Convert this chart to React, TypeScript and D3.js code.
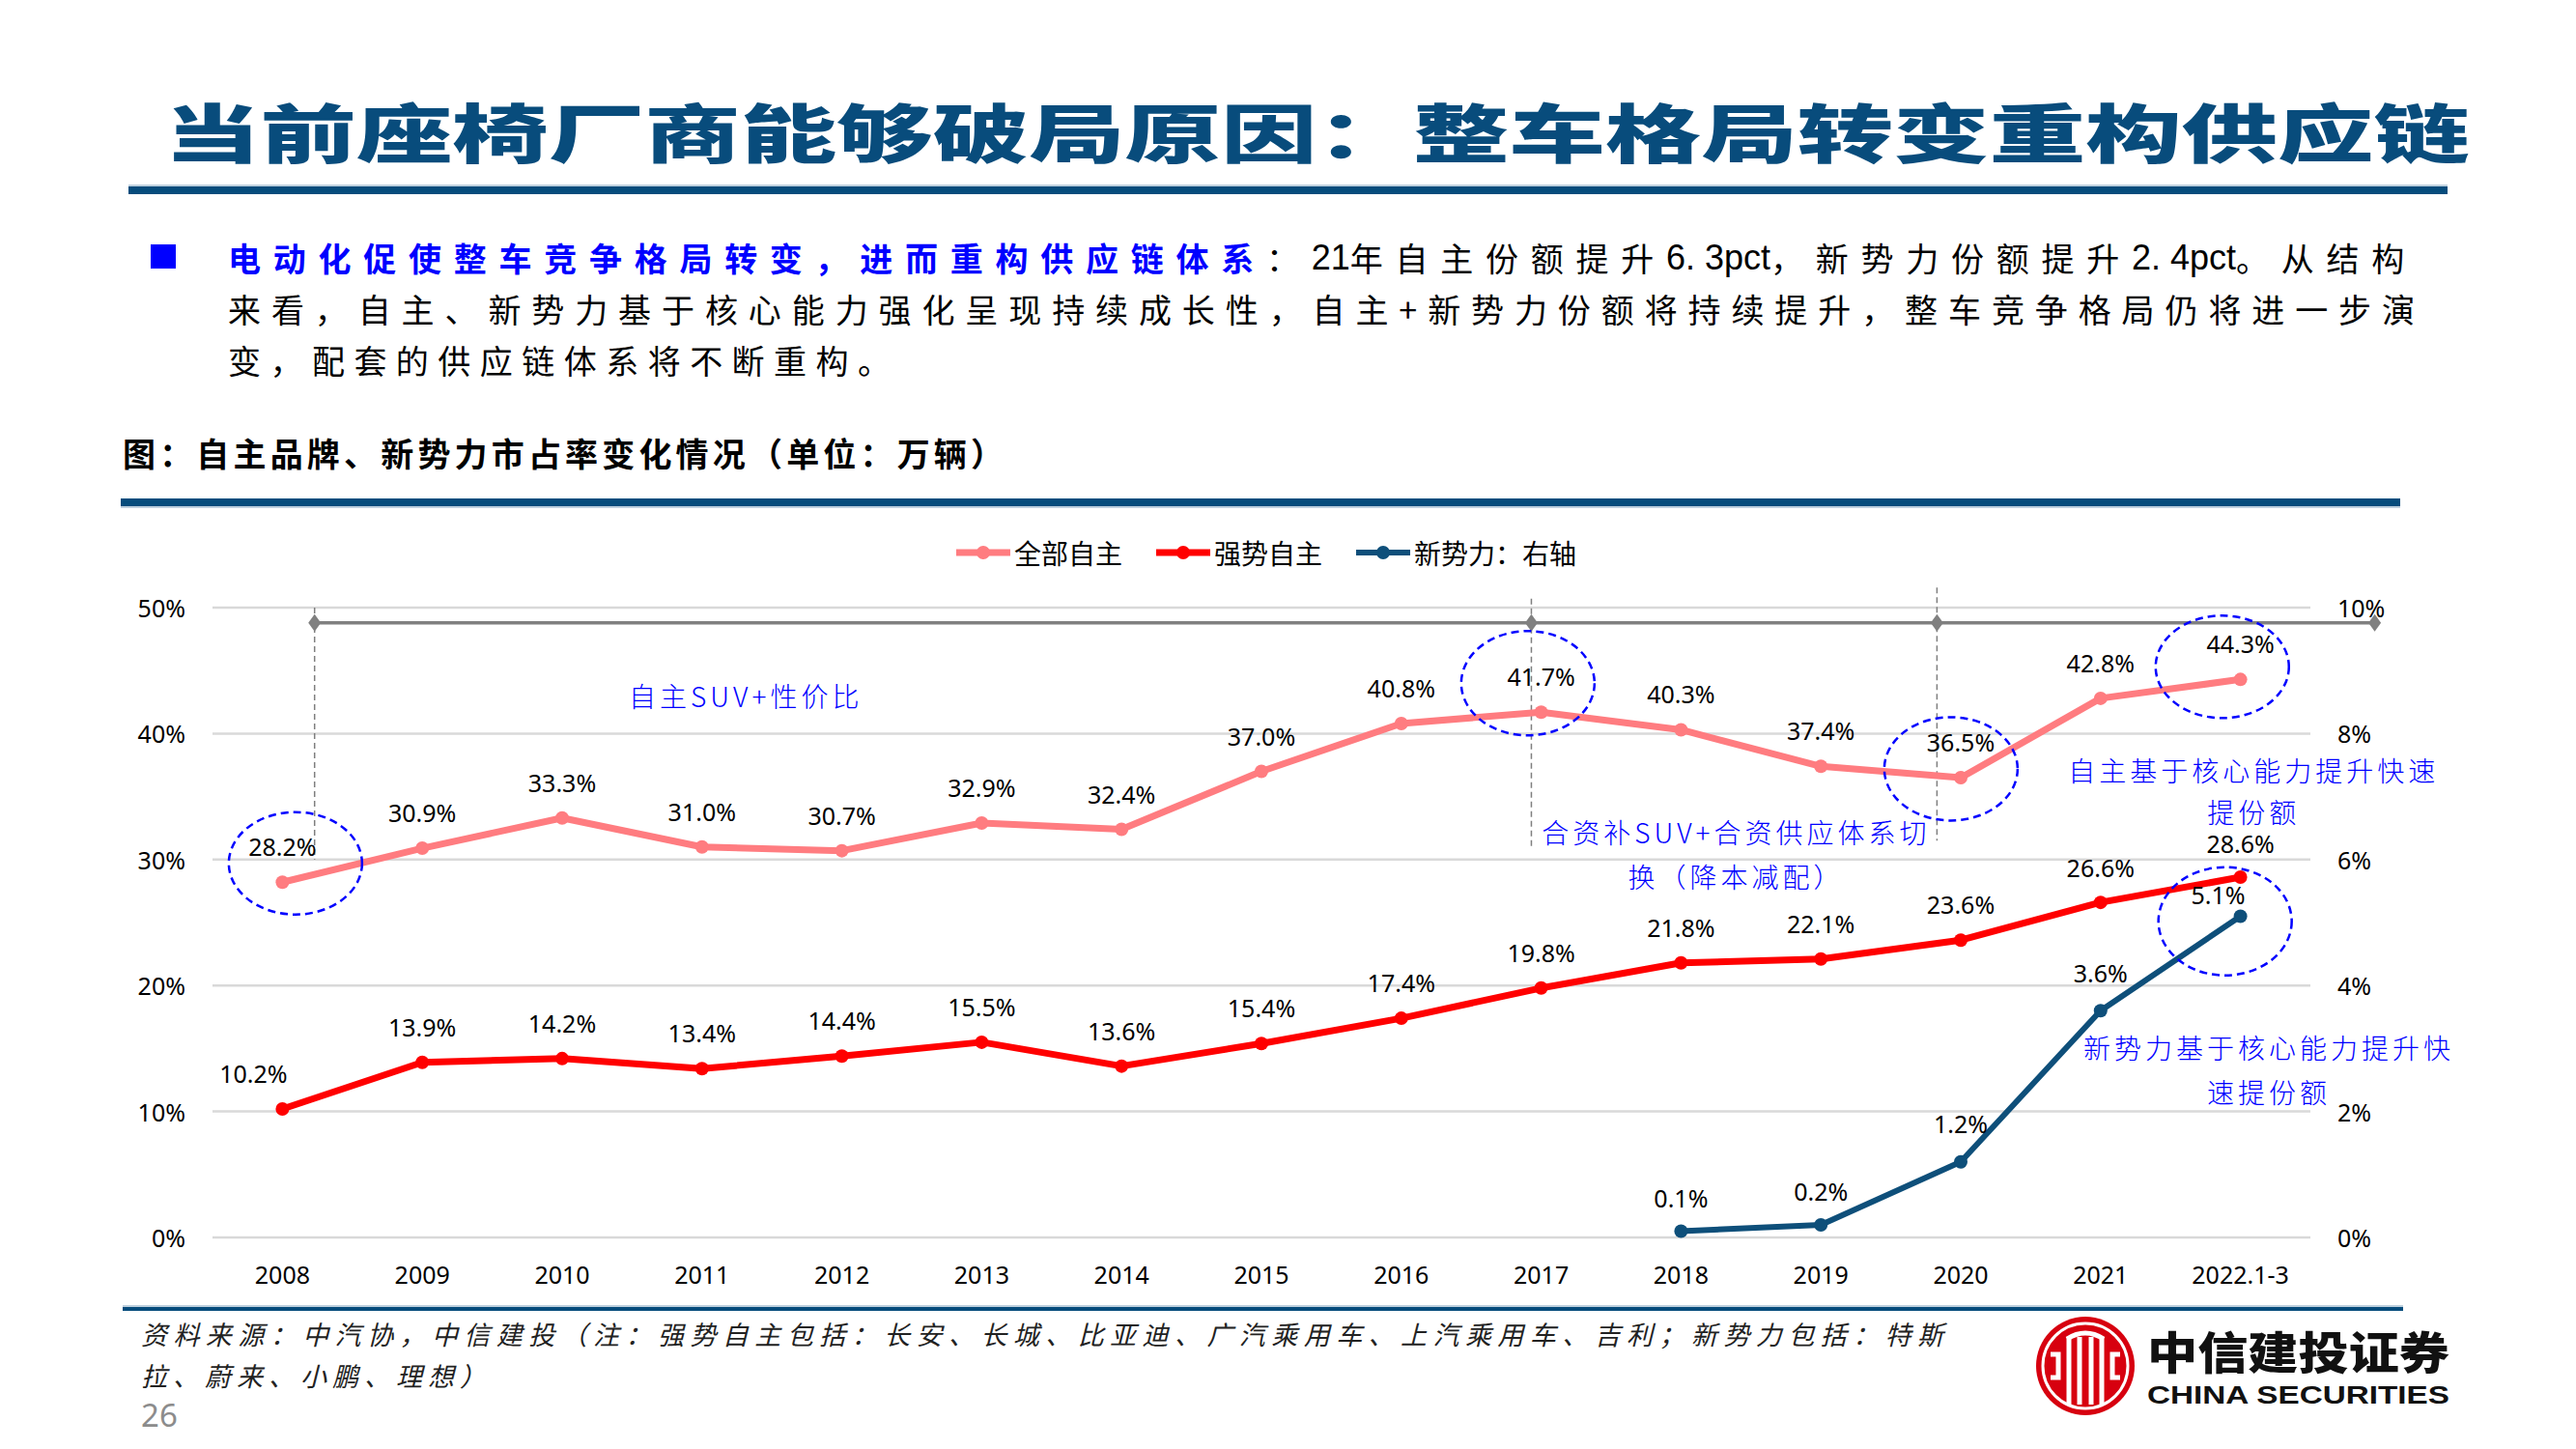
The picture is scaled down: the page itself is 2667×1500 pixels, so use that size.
import { useEffect, useRef } from "react";
import * as d3 from "d3";

const W = 2667;
const H = 1500;

const categories = ["2008", "2009", "2010", "2011", "2012", "2013", "2014", "2015", "2016", "2017", "2018", "2019", "2020", "2021", "2022.1-3"];
const allOwn = [28.2, 30.9, 33.3, 31.0, 30.7, 32.9, 32.4, 37.0, 40.8, 41.7, 40.3, 37.4, 36.5, 42.8, 44.3];
const strongOwn = [10.2, 13.9, 14.2, 13.4, 14.4, 15.5, 13.6, 15.4, 17.4, 19.8, 21.8, 22.1, 23.6, 26.6, 28.6];
const newForces: (number | null)[] = [null, null, null, null, null, null, null, null, null, null, 0.1, 0.2, 1.2, 3.6, 5.1];
const leftTicks = [0, 10, 20, 30, 40, 50];
const rightTicks = [0, 2, 4, 6, 8, 10];
const seriesNames = ["全部自主", "强势自主", "新势力：右轴"];

const COLORS = { all: "#FF7C80", strong: "#FF0000", nev: "#0E4F7A" };
const NAVY = "#064C7C";
const NOTE_BLUE = "#0000FF";
const FONT = "'Noto Sans', 'Noto Sans CJK SC', sans-serif";
const CJK = "'Noto Sans CJK SC', 'Noto Sans', sans-serif";

// paragraph pieces: [text, blue?, latin?]
const para1: [string, boolean, boolean][] = [
  ["电动化促使整车竞争格局转变，进而重构供应链体系", true, false],
  ["：", false, false],
  ["21", false, true],
  ["年自主份额提升", false, false],
  ["6. 3pct", false, true],
  ["，新势力份额提升", false, false],
  ["2. 4pct", false, true],
  ["。从结构", false, false],
];

export default function App() {
  const ref = useRef<SVGSVGElement>(null);

  useEffect(() => {
    const svg = d3.select(ref.current);
    svg.selectAll("*").remove();

    svg.append("rect").attr("width", W).attr("height", H).attr("fill", "#fff");

    // ---- page header
    svg.append("text")
      .attr("x", 170).attr("y", 134)
      .attr("dominant-baseline", "central")
      .attr("font-family", CJK).attr("font-weight", 900).attr("font-size", 66)
      .attr("fill", "#084C7C")
      .attr("textLength", 2387).attr("lengthAdjust", "spacingAndGlyphs")
      .text("当前座椅厂商能够破局原因：整车格局转变重构供应链");
    svg.append("line").attr("x1", 133).attr("x2", 2534).attr("y1", 192).attr("y2", 192)
      .attr("stroke", "#A9C0D3").attr("stroke-width", 1.5);
    svg.append("rect").attr("x", 133).attr("y", 193).attr("width", 2401).attr("height", 8).attr("fill", NAVY);

    // bullet paragraph
    svg.append("rect").attr("x", 156).attr("y", 253).attr("width", 26).attr("height", 25).attr("fill", "#0000FF");
    const p1 = svg.append("text")
      .attr("x", 236).attr("y", 266).attr("dominant-baseline", "central")
      .attr("font-family", CJK).attr("font-size", 34);
    const cjkSpans: any[] = [];
    let cjkCount = 0;
    para1.forEach(([t, blue, latin]) => {
      const sp = p1.append("tspan")
        .attr("fill", blue ? "#0000FF" : "#000")
        .attr("font-weight", blue ? 700 : 400)
        .text(t);
      if (latin) {
        sp.attr("font-family", "'Liberation Sans Narrow', 'Liberation Sans', sans-serif").attr("font-size", 36);
      } else {
        cjkSpans.push(sp);
        cjkCount += t.length;
      }
    });
    const w0 = (p1.node() as SVGTextElement).getComputedTextLength();
    const ls = Math.max(0, (2266 - w0) / cjkCount);
    cjkSpans.forEach((sp) => sp.attr("letter-spacing", ls));

    svg.append("text")
      .attr("x", 236).attr("y", 319).attr("dominant-baseline", "central")
      .attr("font-family", CJK).attr("font-size", 34).attr("fill", "#000")
      .attr("textLength", 2264).attr("lengthAdjust", "spacing")
      .text("来看，自主、新势力基于核心能力强化呈现持续成长性，自主+新势力份额将持续提升，整车竞争格局仍将进一步演");
    svg.append("text")
      .attr("x", 236).attr("y", 372).attr("dominant-baseline", "central")
      .attr("font-family", CJK).attr("font-size", 34).attr("fill", "#000")
      .attr("textLength", 686).attr("lengthAdjust", "spacing")
      .text("变，配套的供应链体系将不断重构。");

    // figure caption
    svg.append("text")
      .attr("x", 127).attr("y", 468).attr("dominant-baseline", "central")
      .attr("font-family", CJK).attr("font-weight", 700).attr("font-size", 34).attr("fill", "#000")
      .attr("textLength", 912).attr("lengthAdjust", "spacing")
      .text("图：自主品牌、新势力市占率变化情况（单位：万辆）");
    svg.append("rect").attr("x", 125).attr("y", 516).attr("width", 2360).attr("height", 8).attr("fill", NAVY);
    svg.append("line").attr("x1", 125).attr("x2", 2485).attr("y1", 525).attr("y2", 525)
      .attr("stroke", "#A9C0D3").attr("stroke-width", 1.5);

    // ---- chart
    const x = d3.scaleBand().domain(categories).range([220, 2392]);
    const cx = (c: string) => (x(c) as number) + x.bandwidth() / 2;
    const xi = d3.scaleLinear().domain([0, categories.length - 1]).range([cx(categories[0]), cx(categories[categories.length - 1])]);
    const yL = d3.scaleLinear().domain([0, 50]).range([1281, 629]);
    const yR = d3.scaleLinear().domain([0, 10]).range([1281, 629]);

    const g = svg.append("g");

    g.selectAll(".grid").data(leftTicks).enter().append("line")
      .attr("x1", 220).attr("x2", 2392)
      .attr("y1", (d) => yL(d)).attr("y2", (d) => yL(d))
      .attr("stroke", "#D9D9D9").attr("stroke-width", 2.5);

    g.selectAll(".yl").data(leftTicks).enter().append("text")
      .attr("x", 192).attr("y", (d) => yL(d))
      .attr("text-anchor", "end").attr("dominant-baseline", "central")
      .attr("font-family", FONT).attr("font-size", 25).attr("fill", "#000")
      .text((d) => `${d}%`);
    g.selectAll(".yr").data(rightTicks).enter().append("text")
      .attr("x", 2420).attr("y", (d) => yR(d))
      .attr("dominant-baseline", "central")
      .attr("font-family", FONT).attr("font-size", 25).attr("fill", "#000")
      .text((d) => `${d}%`);
    g.selectAll(".xl").data(categories).enter().append("text")
      .attr("x", (d) => cx(d)).attr("y", 1319)
      .attr("text-anchor", "middle").attr("dominant-baseline", "central")
      .attr("font-family", FONT).attr("font-size", 25).attr("fill", "#000")
      .text((d) => d);

    // timeline of phases
    const stops = [0.23, 8.93, 11.83, 14.96];
    const levelY = yL(48.8);
    const dashes = [
      { at: 0.23, from: 50, to: 30 },
      { at: 8.93, from: 50.7, to: 30.8 },
      { at: 11.83, from: 51.6, to: 31.5 },
    ];
    g.selectAll(".vd").data(dashes).enter().append("line")
      .attr("x1", (d) => xi(d.at)).attr("x2", (d) => xi(d.at))
      .attr("y1", (d) => yL(d.from)).attr("y2", (d) => yL(d.to))
      .attr("stroke", "#7F7F7F").attr("stroke-width", 1.5).attr("stroke-dasharray", "6,4");
    g.append("line")
      .attr("x1", xi(stops[0])).attr("x2", xi(stops[stops.length - 1]))
      .attr("y1", levelY).attr("y2", levelY)
      .attr("stroke", "#808080").attr("stroke-width", 3.5);
    g.selectAll(".dm").data(stops).enter().append("path")
      .attr("d", (d) => {
        const px = xi(d);
        return `M${px},${levelY - 9}L${px + 6.5},${levelY}L${px},${levelY + 9}L${px - 6.5},${levelY}Z`;
      })
      .attr("fill", "#808080");

    // series
    const seriesList = [
      { key: "all", values: allOwn as (number | null)[], scale: yL, color: COLORS.all, width: 7, r: 7 },
      { key: "strong", values: strongOwn as (number | null)[], scale: yL, color: COLORS.strong, width: 7, r: 7 },
      { key: "nev", values: newForces, scale: yR, color: COLORS.nev, width: 6, r: 7 },
    ];

    seriesList.forEach((s) => {
      const pts = s.values.map((v, i) => ({ c: categories[i], v, i }));
      const line = d3.line<{ c: string; v: number | null }>()
        .defined((d) => d.v != null)
        .x((d) => cx(d.c))
        .y((d) => s.scale(d.v as number));
      g.append("path").datum(pts).attr("d", line)
        .attr("fill", "none").attr("stroke", s.color)
        .attr("stroke-width", s.width).attr("stroke-linejoin", "round").attr("stroke-linecap", "round");
      g.selectAll(`.pt-${s.key}`).data(pts.filter((d) => d.v != null)).enter().append("circle")
        .attr("cx", (d) => cx(d.c)).attr("cy", (d) => s.scale(d.v as number))
        .attr("r", s.r).attr("fill", s.color);
    });

    // data labels
    const shift: Record<string, { dx?: number; dy?: number }> = {
      "strong-0": { dx: -30 },
      "strong-13": { dy: -26 },
      "strong-14": { dy: -25 },
      "nev-10": { dy: -24 },
      "nev-11": { dy: -25 },
      "nev-12": { dy: -30 },
      "nev-13": { dy: -29 },
      "nev-14": { dx: -23, dy: -12 },
    };
    seriesList.forEach((s) => {
      s.values.forEach((v, i) => {
        if (v == null) return;
        const sh = shift[`${s.key}-${i}`] || {};
        g.append("text")
          .attr("x", cx(categories[i]) + (sh.dx ?? 0))
          .attr("y", s.scale(v) + (sh.dy ?? -27))
          .attr("text-anchor", "middle")
          .attr("font-family", FONT).attr("font-size", 25).attr("fill", "#000")
          .text(`${v.toFixed(1)}%`);
      });
    });

    // dashed highlight ellipses
    const rings = [
      { at: 0.093, v: 29.7, ry: 53 },
      { at: 8.905, v: 44.0, ry: 54 },
      { at: 11.93, v: 37.2, ry: 53.5 },
      { at: 13.87, v: 45.3, ry: 53 },
      { at: 13.89, v: 25.1, ry: 56 },
    ];
    g.selectAll(".ring").data(rings).enter().append("ellipse")
      .attr("cx", (d) => xi(d.at)).attr("cy", (d) => yL(d.v))
      .attr("rx", 69).attr("ry", (d) => d.ry)
      .attr("fill", "none").attr("stroke", NOTE_BLUE)
      .attr("stroke-width", 2.5).attr("stroke-dasharray", "8,5");

    // blue notes
    const notes = [
      { at: 3.3, lines: ["自主SUV+性价比"], v: [43.0] },
      { at: 10.38, lines: ["合资补SUV+合资供应体系切", "换（降本减配）"], v: [32.2, 28.7] },
      { at: 14.08, lines: ["自主基于核心能力提升快速", "提份额"], v: [37.1, 33.85] },
      { at: 14.19, lines: ["新势力基于核心能力提升快", "速提份额"], v: [15.1, 11.6] },
    ];
    notes.forEach((n) => {
      n.lines.forEach((t, k) => {
        g.append("text")
          .attr("x", xi(n.at) + 2).attr("y", yL(n.v[k]))
          .attr("text-anchor", "middle").attr("dominant-baseline", "central")
          .attr("font-family", CJK).attr("font-weight", 300).attr("font-size", 28)
          .attr("letter-spacing", 4).attr("fill", NOTE_BLUE)
          .text(t);
      });
    });

    // legend
    const legend = g.append("g");
    let lx = 0;
    seriesList.forEach((s, i) => {
      const item = legend.append("g").attr("transform", `translate(${lx},0)`);
      item.append("line").attr("x1", 0).attr("x2", 56).attr("y1", 0).attr("y2", 0)
        .attr("stroke", s.color).attr("stroke-width", s.width);
      item.append("circle").attr("cx", 28).attr("cy", 0).attr("r", 7).attr("fill", s.color);
      const t = item.append("text").attr("x", 60).attr("y", 0)
        .attr("dominant-baseline", "central")
        .attr("font-family", CJK).attr("font-size", 28).attr("fill", "#000")
        .text(seriesNames[i]);
      const tw = (t.node() as SVGTextElement).getComputedTextLength();
      lx += 60 + tw + 35;
    });
    const totalW = lx - 35;
    legend.attr("transform", `translate(${1311 - totalW / 2},572)`);

    // ---- footer
    svg.append("line").attr("x1", 127).attr("x2", 2488).attr("y1", 1352).attr("y2", 1352)
      .attr("stroke", "#A9C0D3").attr("stroke-width", 1.5);
    svg.append("rect").attr("x", 127).attr("y", 1353).attr("width", 2361).attr("height", 4).attr("fill", NAVY);
    svg.append("text")
      .attr("x", 146).attr("y", 1380).attr("dominant-baseline", "central")
      .attr("font-family", CJK).attr("font-style", "italic").attr("font-size", 27).attr("fill", "#222")
      .attr("textLength", 1866).attr("lengthAdjust", "spacing")
      .text("资料来源：中汽协，中信建投（注：强势自主包括：长安、长城、比亚迪、广汽乘用车、上汽乘用车、吉利；新势力包括：特斯");
    svg.append("text")
      .attr("x", 146).attr("y", 1423).attr("dominant-baseline", "central")
      .attr("font-family", CJK).attr("font-style", "italic").attr("font-size", 27).attr("fill", "#222")
      .attr("textLength", 357).attr("lengthAdjust", "spacing")
      .text("拉、蔚来、小鹏、理想）");
    svg.append("text")
      .attr("x", 146).attr("y", 1464).attr("dominant-baseline", "central")
      .attr("font-family", FONT).attr("font-size", 33).attr("fill", "#8C8C8C")
      .text("26");

    // logo
    const logo = svg.append("g").attr("transform", "translate(2159,1414)");
    logo.append("circle").attr("r", 51).attr("fill", "#D7000F");
    logo.append("circle").attr("r", 44).attr("fill", "none").attr("stroke", "#fff").attr("stroke-width", 3);
    [-17, -6, 6, 17].forEach((dx) => {
      logo.append("rect").attr("x", dx - 2.5).attr("y", -30).attr("width", 5).attr("height", 70).attr("fill", "#fff");
    });
    logo.append("path").attr("d", "M-19,-28 Q0,-40 19,-28").attr("fill", "none").attr("stroke", "#fff").attr("stroke-width", 5);
    [-1, 1].forEach((sgn) => {
      logo.append("path")
        .attr("d", `M${sgn * 36},-12 L${sgn * 28},-12 L${sgn * 28},12 L${sgn * 36},12`)
        .attr("fill", "none").attr("stroke", "#fff").attr("stroke-width", 5);
    });
    svg.append("text")
      .attr("x", 2223).attr("y", 1397).attr("dominant-baseline", "central")
      .attr("font-family", CJK).attr("font-weight", 900).attr("font-size", 46).attr("fill", "#111")
      .attr("textLength", 313).attr("lengthAdjust", "spacingAndGlyphs")
      .text("中信建投证券");
    svg.append("text")
      .attr("x", 2223).attr("y", 1444).attr("dominant-baseline", "central")
      .attr("font-family", "'Liberation Sans', Arial, sans-serif").attr("font-weight", 700).attr("font-size", 26).attr("fill", "#111")
      .attr("textLength", 313).attr("lengthAdjust", "spacingAndGlyphs")
      .text("CHINA SECURITIES");
  }, []);

  return (
    <svg ref={ref} width={W} height={H} style={{ position: "absolute", left: 0, top: 0, display: "block" }} />
  );
}
